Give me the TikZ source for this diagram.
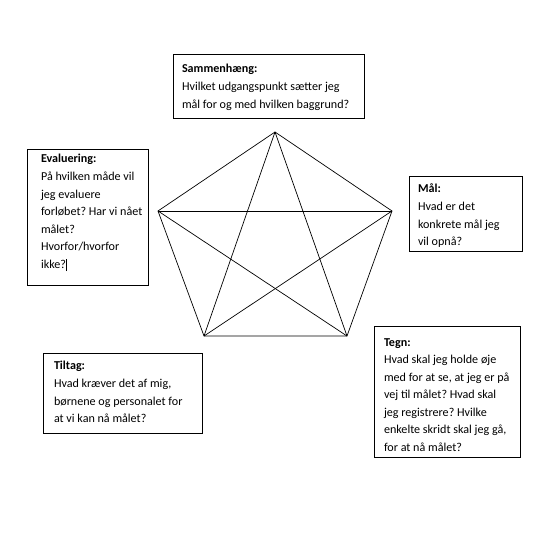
\documentclass[tikz,border=0pt]{standalone}
\usepackage{fontspec}
\setmainfont{Carlito}
\frenchspacing
\begin{document}
\begin{tikzpicture}[x=1pt,y=-1pt,
  box/.style={draw=black, line width=1pt, inner sep=0pt, outer sep=0pt},
  txt/.style={anchor=base west, inner sep=0pt, outer sep=0pt, font=\fontsize{12.1}{17.6}\selectfont},
  edge/.style={draw=black, line width=0.7pt}]
\useasboundingbox (0,0) rectangle (560,548);
\fill[white] (0,0) rectangle (560,548);
% pentagon
\coordinate (T) at (275,132);
\coordinate (L) at (158,211);
\coordinate (R) at (392,211);
\coordinate (BL) at (204,336);
\coordinate (BR) at (347,336);
\draw[edge] (T) -- (R) -- (BR) -- (BL) -- (L) -- (T);
\draw[edge] (T) -- (BL);
\draw[edge] (T) -- (BR);
\draw[edge] (L) -- (R);
\draw[edge] (L) -- (BR);
\draw[edge] (R) -- (BL);
% boxes
\node[box, minimum width=191, minimum height=64] (samBox) at (268.5,87) {};
\node[txt] (samText) at (182,73) {\parbox[t]{200pt}{\textbf{Sammenhæng:}\\Hvilket udgangspunkt sætter jeg\\mål for og med hvilken baggrund?}};
\node[box, minimum width=121, minimum height=136] (evaBox) at (87.5,218) {};
\node[txt] (evaText) at (41,163) {\parbox[t]{120pt}{\textbf{Evaluering:}\\På hvilken måde vil\\jeg evaluere\\forløbet? Har vi nået\\målet?\\Hvorfor/hvorfor\\ikke?\rule[-2.5pt]{0.5pt}{12pt}}};
\node[box, minimum width=113, minimum height=75] (malBox) at (465.5,214.5) {};
\node[txt] (malText) at (418,193) {\parbox[t]{120pt}{\textbf{Mål:}\\Hvad er det\\konkrete mål jeg\\vil opnå?}};
\node[box, minimum width=146, minimum height=130] (tegnBox) at (447,392) {};
\node[txt] (tegnText) at (384,346) {\parbox[t]{150pt}{\textbf{Tegn:}\\Hvad skal jeg holde øje\\med for at se, at jeg er på\\vej til målet? Hvad skal\\jeg registrere? Hvilke\\enkelte skridt skal jeg gå,\\for at nå målet?}};
\node[box, minimum width=159, minimum height=80] (tilBox) at (122.5,393) {};
\node[txt] (tilText) at (54,370) {\parbox[t]{160pt}{\textbf{Tiltag:}\\Hvad kræver det af mig,\\børnene og personalet for\\at vi kan nå målet?}};
\end{tikzpicture}
\end{document}
